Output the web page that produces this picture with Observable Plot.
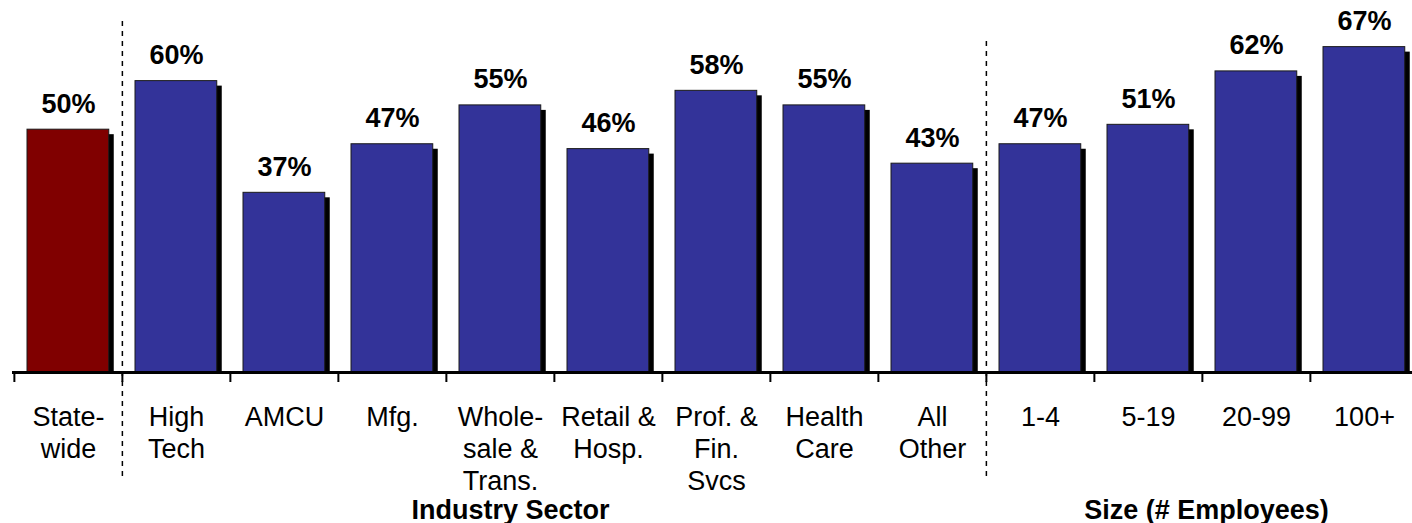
<!DOCTYPE html>
<html><head><meta charset="utf-8">
<script src="https://cdn.jsdelivr.net/npm/d3@7"></script>
<script src="https://cdn.jsdelivr.net/npm/@observablehq/plot@0.6"></script>
<style>html,body{margin:0;padding:0;background:#fff;overflow:hidden;} svg{display:block;max-width:none !important;}</style>
</head><body><div id="chart"></div>
<script>
const categories = ["State-\nwide","High\nTech","AMCU","Mfg.","Whole-\nsale &\nTrans.","Retail &\nHosp.","Prof. &\nFin.\nSvcs","Health\nCare","All\nOther","1-4","5-19","20-99","100+"];
const values = [50,60,37,47,55,46,58,55,43,47,51,62,67];
const groups = ["total","industry","industry","industry","industry","industry","industry","industry","industry","size","size","size","size"];
const groupLabels = ["Industry Sector","Size (# Employees)"];
const groupAnchors = ["Whole-\nsale &\nTrans.","20-99"];
const dividers = ["High\nTech","1-4"];

const data = categories.map((c,i)=>({cat:c, value:values[i], group:groups[i]}));
const step = 108.25;
const font = "'Liberation Sans', Arial, sans-serif";

const chart = Plot.plot({
  width: 1412, height: 523,
  marginLeft: 12, marginRight: -7.25, marginTop: 0, marginBottom: 151,
  x: {domain: categories, padding: 0, axis: null},
  y: {domain: [0, 76.6], axis: null},
  color: {domain: ["total","industry","size"], range: ["#800000","#333399","#333399"]},
  style: {fontFamily: font, background: "#fff", color: "#000"},
  marks: [
    Plot.barY(data, {x:"cat", y:"value", fill:"#000", dx:5, dy:5, insetBottom:5, insetLeft:13, insetRight:13.25}),
    Plot.barY(data, {x:"cat", y:"value", fill:"group", stroke:"#1a1a1a", strokeWidth:1, insetLeft:13, insetRight:13.25}),
    Plot.text(data, {x:"cat", y:"value", text: d => d.value + "%", lineAnchor:"bottom", dy:-17, fontWeight:"bold", fontSize:27, fill:"#000"}),
    Plot.ruleY([0], {stroke:"#000", strokeWidth:3}),
    Plot.ruleX(categories, {x: d => d, dx: -step/2, insetTop: 372, insetBottom: -10, stroke:"#000", strokeWidth:2}),
    Plot.ruleX([dividers[0]], {x: d => d, dx: -step/2, insetTop: 21, insetBottom: -105, stroke:"#000", strokeWidth:1.5, strokeDasharray:"5,5"}),
    Plot.ruleX([dividers[1]], {x: d => d, dx: -step/2, insetTop: 41, insetBottom: -105, stroke:"#000", strokeWidth:1.5, strokeDasharray:"5,5"}),
    Plot.text(data, {x:"cat", text:"cat", frameAnchor:"bottom", lineAnchor:"top", dy:30, fontSize:27, lineHeight:1.2, fill:"#000"}),
    Plot.text([groupLabels[0]], {x: () => groupAnchors[0], text: d => d, frameAnchor:"bottom", lineAnchor:"bottom", dy:146, dx:10, fontSize:27, fontWeight:"bold", fill:"#000"}),
    Plot.text([groupLabels[1]], {x: () => groupAnchors[1], text: d => d, frameAnchor:"bottom", lineAnchor:"bottom", dy:146, dx:-50, fontSize:27, fontWeight:"bold", fill:"#000"})
  ]
});
document.getElementById("chart").appendChild(chart);
</script>
</body></html>
